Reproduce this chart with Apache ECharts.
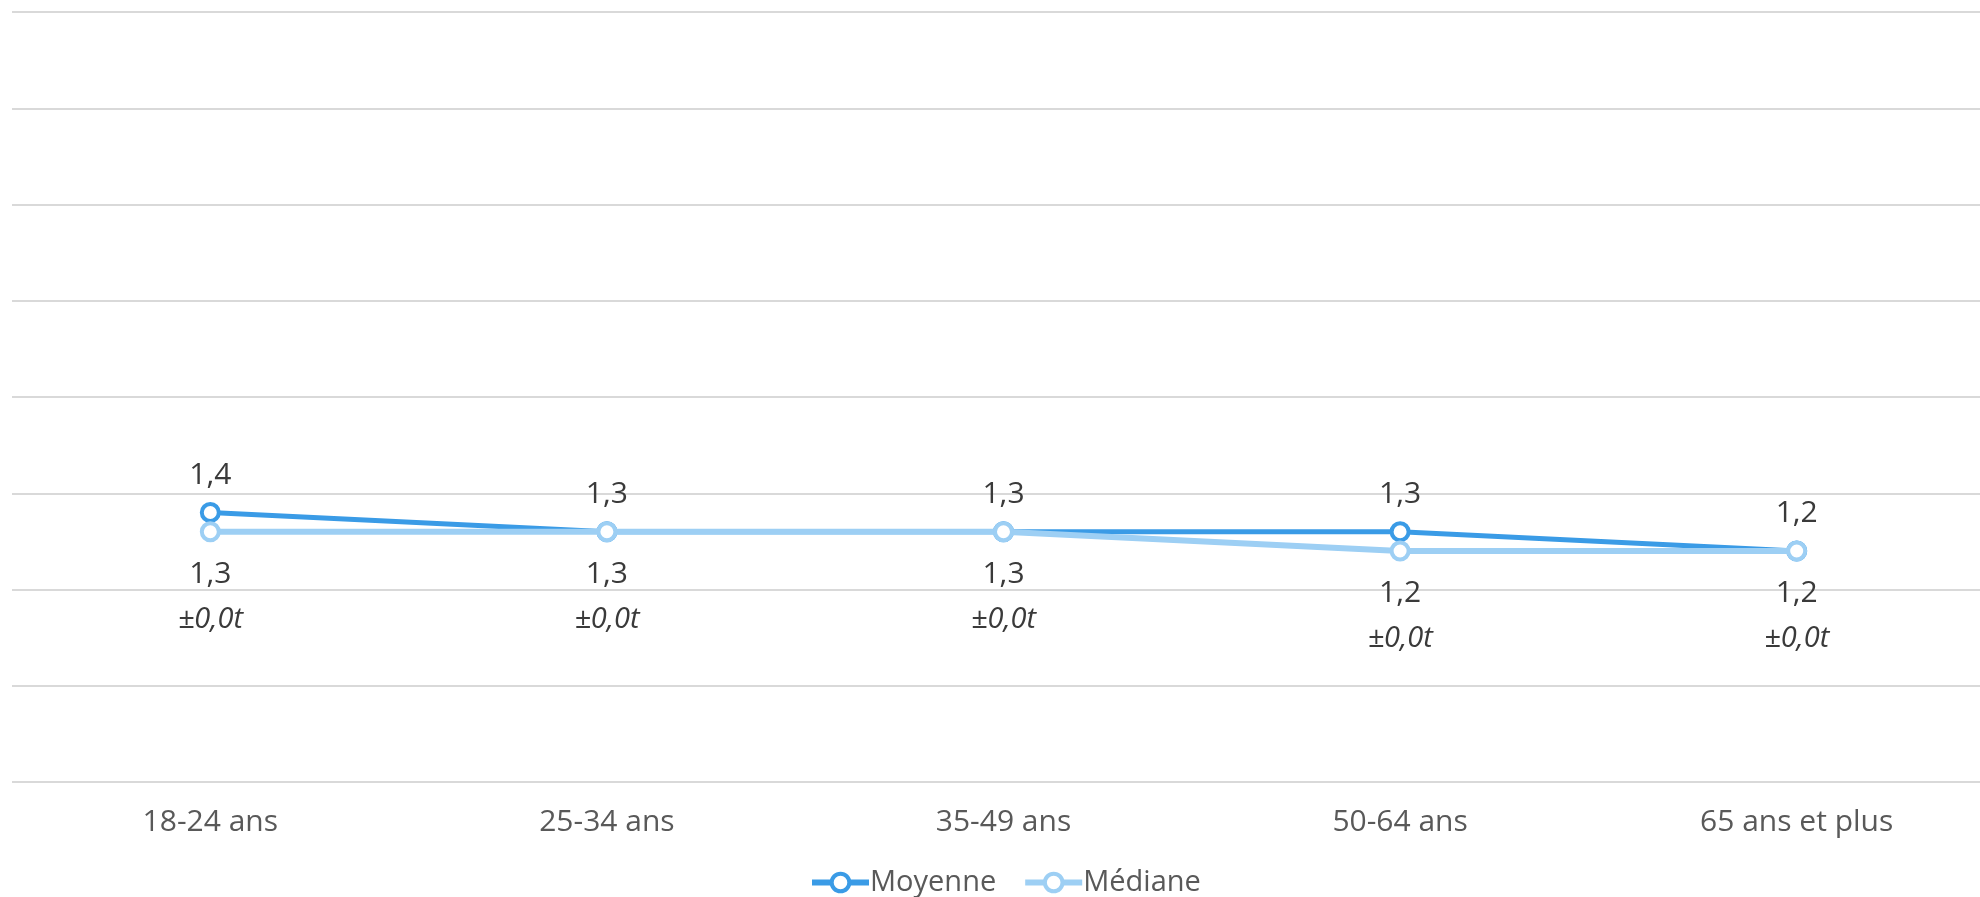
<!DOCTYPE html>
<html>
<head>
<meta charset="utf-8">
<script src="https://cdn.jsdelivr.net/npm/echarts@6/dist/echarts.min.js"></script>
<style>
html,body{margin:0;padding:0;background:#fff;}
#c{width:1980px;height:897px;}
</style>
</head>
<body>
<div id="c"></div>
<script>
const categories = ['18-24 ans', '25-34 ans', '35-49 ans', '50-64 ans', '65 ans et plus'];
const moyenne = [1.4, 1.3, 1.3, 1.3, 1.2];
const mediane = [1.3, 1.3, 1.3, 1.2, 1.2];
const marge = ['±0,0t', '±0,0t', '±0,0t', '±0,0t', '±0,0t'];
const seriesNames = ['Moyenne', 'Médiane'];

const FONT = '"Open Sans", "Noto Sans", sans-serif';
const C1 = '#3a9be6', C2 = '#9dcff4';
const fmt = v => v.toFixed(1).replace('.', ',');

const chart = echarts.init(document.getElementById('c'), null, {renderer: 'canvas'});
chart.setOption({
  animation: false,
  backgroundColor: '#ffffff',
  textStyle: {fontFamily: FONT},
  grid: {left: 12, width: 1983, top: 12, bottom: 115, containLabel: false, outerBoundsMode: 'none'},
  legend: {
    data: seriesNames,
    top: 863,
    left: 804,
    itemWidth: 57,
    itemHeight: 22,
    itemGap: 26,
    lineStyle: {width: 6},
    itemStyle: {borderWidth: 4},
    textStyle: {fontFamily: FONT, fontSize: 29, color: '#595959', padding: [0,0,0,-4]}
  },
  xAxis: {
    type: 'category',
    data: categories,
    boundaryGap: true,
    axisLine: {show: false},
    axisTick: {show: false},
    axisLabel: {fontFamily: FONT, fontSize: 30, color: '#595959', margin: 25}
  },
  yAxis: {
    type: 'value',
    min: 0, max: 4, interval: 0.5,
    axisLabel: {show: false},
    axisLine: {show: false},
    axisTick: {show: false},
    splitLine: {lineStyle: {color: '#d9d9d9', width: 2}}
  },
  series: [
    {
      name: seriesNames[0],
      type: 'line',
      data: moyenne,
      symbol: 'circle',
      symbolSize: 17,
      lineStyle: {color: C1, width: 5},
      itemStyle: {color: '#ffffff', borderColor: C1, borderWidth: 4},
      label: {
        show: true, position: 'top', distance: 9,
        formatter: p => fmt(p.value),
        fontFamily: FONT, fontSize: 30, color: '#3a3a3a', lineHeight: 36
      },
      z: 2
    },
    {
      name: seriesNames[1],
      type: 'line',
      data: mediane,
      symbol: 'circle',
      symbolSize: 17,
      lineStyle: {color: C2, width: 6},
      itemStyle: {color: '#ffffff', borderColor: C2, borderWidth: 4},
      label: {
        show: true, position: 'bottom', distance: 14,
        formatter: p => '{v|' + fmt(p.value) + '}\n{e|' + marge[p.dataIndex] + '}',
        rich: {
          v: {fontFamily: FONT, fontSize: 30, color: '#3a3a3a', lineHeight: 36},
          e: {fontFamily: FONT, fontSize: 29, fontStyle: 'italic', color: '#3a3a3a', lineHeight: 54}
        }
      },
      z: 3
    }
  ]
});
</script>
</body>
</html>
